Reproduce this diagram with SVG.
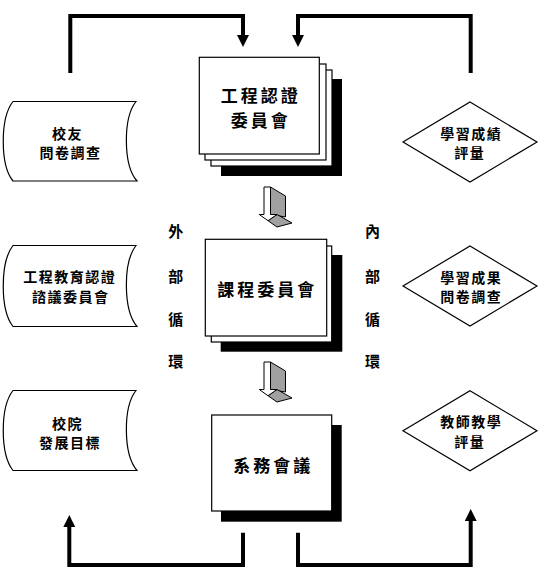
<svg xmlns="http://www.w3.org/2000/svg" width="539" height="581" viewBox="0 0 539 581">
<style>
  .box{fill:#fff;stroke:#000;stroke-width:1.2}
  .shadow{fill:#000}
  .shape{fill:#fff;stroke:#000;stroke-width:1.2}
  .t{font-family:"Noto Sans CJK TC","Noto Sans CJK SC",sans-serif;font-weight:bold;fill:#000;text-anchor:middle;dominant-baseline:central}
  .big{font-size:17px;letter-spacing:3px}
  .sm{font-size:14px;letter-spacing:1.5px}
  .side{font-size:15px}
  .conn{fill:none;stroke:#000;stroke-width:4;stroke-linejoin:miter}
  .af{fill:#fff;stroke:#000;stroke-width:1}
  .ag{fill:#a0a0a0;stroke:#000;stroke-width:1}
</style>
<defs>
  <marker id="ah" viewBox="0 0 12 12" markerWidth="12" markerHeight="12" refX="0" refY="6" orient="auto" markerUnits="userSpaceOnUse">
    <path d="M0,0 L12,6 L0,12 Z" fill="#000"/>
  </marker>
  <g id="arrow3d">
    <polygon class="ag" points="270.5,187 285.5,196 285.5,217 270.5,214.5"/>
    <polygon class="ag" points="277,214.5 292,223 277,227 268,220.7"/>
    <polygon class="af" points="264,187 270.5,187 270.5,214.5 277,214.5 268,220.7 259.3,214.5 264,214.5"/>
  </g>
</defs>

<rect width="539" height="581" fill="#fff"/>

<g id="connectors">
  <path class="conn" d="M70.3,73 V16 H243 V35" marker-end="url(#ah)"/>
  <path class="conn" d="M470.7,73 V16 H298 V35" marker-end="url(#ah)"/>
  <path class="conn" d="M243,532.7 V565 H69.3 V527" marker-end="url(#ah)"/>
  <path class="conn" d="M298,532.7 V565 H470.7 V521" marker-end="url(#ah)"/>
  <use href="#arrow3d"/>
  <use href="#arrow3d" transform="translate(0,175)"/>
</g>

<g id="node-engineering-accreditation">
  <rect class="shadow" x="221" y="79" width="121" height="97"/>
  <rect class="box" x="211" y="70" width="121" height="96"/>
  <rect class="box" x="205" y="64" width="121" height="96"/>
  <rect class="box" x="199.3" y="57.3" width="120" height="96.7"/>
  <text class="t big" x="260.7" y="94">工程認證</text>
  <text class="t big" x="260.7" y="119.5">委員會</text>
</g>

<g id="node-curriculum">
  <rect class="shadow" x="220.7" y="255" width="121.6" height="96.7"/>
  <rect class="box" x="211.3" y="246" width="120.4" height="96"/>
  <rect class="box" x="205.3" y="239.3" width="121.4" height="96.7"/>
  <text class="t big" x="267.3" y="288">課程委員會</text>
</g>

<g id="node-department">
  <rect class="shadow" x="221" y="425" width="120.7" height="96.7"/>
  <rect class="box" x="211.7" y="415" width="120" height="96"/>
  <text class="t big" x="273.2" y="464.5">系務會議</text>
</g>

<g id="node-alumni">
  <path class="shape" d="M13,101.5 H136 C123,118 123,165 137,181 H13 C0,165 0,118 13,101.5 Z"/>
  <text class="t sm" x="67.5" y="132.6">校友</text>
  <text class="t sm" x="70.5" y="151.8">問卷調查</text>
</g>

<g id="node-advisory">
  <path class="shape" d="M13,245.5 H136 C123,262 123,310 137,326.5 H13 C0,310 0,262 13,245.5 Z"/>
  <text class="t sm" x="69.8" y="276.2">工程教育認證</text>
  <text class="t sm" x="70.8" y="295.6">諮議委員會</text>
</g>

<g id="node-goals">
  <path class="shape" d="M13,390.5 H136 C123,407 123,454 137,470.5 H13 C0,454 0,407 13,390.5 Z"/>
  <text class="t sm" x="67.5" y="422.6">校院</text>
  <text class="t sm" x="70" y="441.8">發展目標</text>
</g>

<g id="node-grades">
  <polygon class="shape" points="470,102 537,142 470,182 403,142"/>
  <text class="t sm" x="471.3" y="133">學習成績</text>
  <text class="t sm" x="469.8" y="152.2">評量</text>
</g>

<g id="node-outcomes">
  <polygon class="shape" points="470,246 537,286 470,326 403,286"/>
  <text class="t sm" x="471.3" y="277">學習成果</text>
  <text class="t sm" x="471.3" y="296.3">問卷調查</text>
</g>

<g id="node-teaching">
  <polygon class="shape" points="470,390.7 537,430.7 470,470.7 403,430.7"/>
  <text class="t sm" x="471.3" y="421">教師教學</text>
  <text class="t sm" x="469.8" y="441">評量</text>
</g>

<g id="label-external">
  <text class="t side" x="175.8" y="230.3">外</text>
  <text class="t side" x="175.8" y="275">部</text>
  <text class="t side" x="175.8" y="318.3">循</text>
  <text class="t side" x="175.8" y="360">環</text>
</g>

<g id="label-internal">
  <text class="t side" x="372.5" y="230.3">內</text>
  <text class="t side" x="372.5" y="275">部</text>
  <text class="t side" x="372.5" y="318.3">循</text>
  <text class="t side" x="372.5" y="360">環</text>
</g>
</svg>
